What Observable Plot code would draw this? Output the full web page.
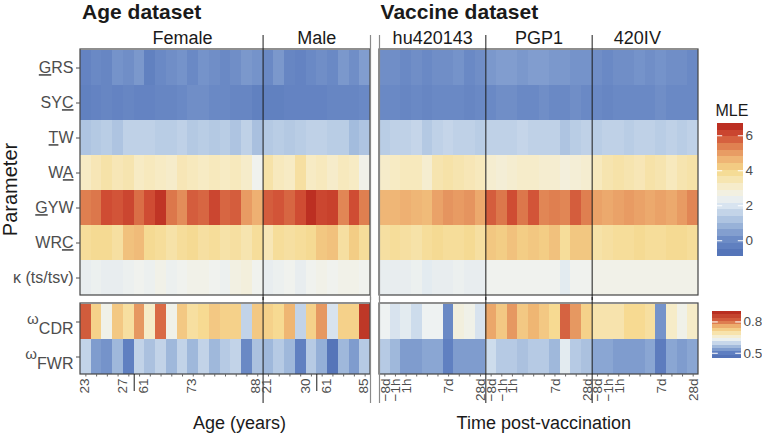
<!DOCTYPE html>
<html><head><meta charset="utf-8">
<script src="https://cdn.jsdelivr.net/npm/d3@7"></script>
<script src="https://cdn.jsdelivr.net/npm/@observablehq/plot@0.6"></script>
<style>
body{margin:0;background:#fff;}
#chart{position:relative;width:762px;height:434px;background:#fff;overflow:hidden;}
#chart > svg{position:absolute;}
</style>
</head><body><div id="chart"></div>
<script>
// ---------------- data ----------------
const params = ["GRS","SYC","TW","WA","GYW","WRC","κ (ts/tsv)"];
const paramUnderline = [0,2,0,1,0,2,-1];
const omegaRows = ["CDR","FWR"];
const groups = ["Female","Male","hu420143","PGP1","420IV"];
const groupSizes = [17,10,10,10,10];
const groupDataset = ["Age","Age","Vaccine","Vaccine","Vaccine"];
const datasets = ["Age","Vaccine"];
const axisTitles = ["Age (years)","Time post-vaccination"];
const femaleTicks = ["23","","","","27","61","","","","","73","","","","","","88"];
const maleTicks = ["21","","","","30","61","","","","85"];
const vaccineTicks = ["−8d","−1h","1h","","","","7d","","","28d"];
const breakIndex = [5,5]; // first "old" individual in Female, Male

// MLE, age dataset (17 female + 10 male)
const GRS_age = [-0.2,0.0,-0.1,0.2,0.1,0.3,-0.3,0.0,0.1,0.2,0.0,0.2,0.1,0.0,0.1,0.3,0.2, 0.0,0.3,-0.1,-0.2,0.0,0.1,0.0,0.3,0.1,0.4];
const SYC_age = [-0.3,-0.2,-0.1,-0.2,-0.1,-0.2,-0.2,-0.1,-0.1,0.0,0.1,0.1,0.0,0.0,-0.1,-0.1,-0.3, -0.3,-0.3,-0.2,-0.2,-0.2,-0.2,-0.1,-0.1,-0.1,0.0];
const TW_age = [1.2,1.3,1.4,1.2,1.5,1.5,1.5,1.4,1.4,1.5,1.3,1.4,1.3,1.4,1.2,1.5,1.1, 1.3,1.4,1.3,1.4,1.5,1.5,1.4,1.4,1.0,1.2];
const WA_age = [3.2,3.4,3.6,3.4,3.5,3.2,3.3,3.2,3.1,3.4,3.3,3.2,3.3,3.2,3.3,3.1,2.5, 3.6,3.3,3.2,3.7,3.2,3.3,3.1,3.3,3.2,2.6];
const GYW_age = [5.4,5.5,6.0,5.9,6.1,5.6,6.0,6.4,5.5,5.2,5.8,5.7,6.1,5.7,5.8,5.0,4.7, 5.8,5.9,5.7,6.0,6.5,6.1,6.2,5.3,6.0,5.4];
const WRC_age = [3.8,3.9,3.9,3.7,4.4,4.5,3.9,3.8,3.6,3.8,3.9,3.7,3.8,3.6,3.7,3.5,3.8, 3.4,3.8,3.7,3.8,3.9,4.3,4.4,3.7,4.2,3.8];
const KAPPA_age = [2.3,2.4,2.3,2.3,2.4,2.5,2.4,2.6,2.4,2.5,2.6,2.6,2.5,2.4,2.7,2.8,2.5, 2.3,2.4,2.5,2.3,2.5,2.6,2.5,2.6,2.6,2.5];

// MLE, vaccine dataset (hu420143, PGP1, 420IV x 10 time points)
const GRS_vac = [0.1,0.1,0.0,0.1,0.0,0.1,0.1,0.2,0.0,0.1, 0.3,0.4,0.4,0.3,0.4,0.4,0.3,0.3,0.2,0.2, 0.1,0.0,0.1,0.1,0.2,0.1,0.2,0.1,0.1,0.0];
const SYC_vac = [0.0,0.0,-0.1,0.0,-0.1,0.0,0.0,0.0,-0.1,0.0, 0.0,0.1,0.1,0.0,0.0,0.1,0.0,0.0,0.1,0.0, 0.0,-0.1,0.0,0.0,0.0,0.0,0.1,0.0,0.0,0.0];
const TW_vac = [1.4,1.5,1.5,1.6,1.3,1.5,1.6,1.5,1.5,1.4, 1.5,1.5,1.5,1.6,1.5,1.5,1.5,1.2,1.4,1.5, 1.4,1.5,1.5,1.4,1.5,1.5,1.4,1.5,1.4,1.5];
const WA_vac = [3.1,3.2,3.3,3.3,3.0,3.5,3.6,3.5,3.4,3.3, 3.0,2.9,3.0,3.1,3.1,3.0,3.0,2.8,2.9,3.0, 3.3,3.5,3.6,3.5,3.4,3.6,3.5,3.3,3.5,3.6];
const GYW_vac = [4.6,4.6,4.7,4.6,4.5,4.9,5.1,5.0,5.1,4.8, 5.8,5.5,6.0,5.5,5.9,5.3,5.4,5.3,5.8,5.4, 4.9,4.8,4.9,5.0,4.9,4.8,4.9,4.8,5.0,5.3];
const WRC_vac = [3.7,3.8,3.7,3.6,3.8,3.9,3.8,3.8,3.9,3.7, 4.3,4.2,4.4,4.2,4.3,4.2,4.4,3.8,4.3,4.3, 3.6,3.7,3.8,3.8,3.9,3.8,3.8,3.9,3.9,3.8];
const KAPPA_vac = [2.3,2.3,2.3,2.4,2.2,2.3,2.3,2.4,2.3,2.3, 2.5,2.5,2.5,2.5,2.5,2.5,2.5,2.2,2.5,2.5, 2.6,2.6,2.6,2.6,2.6,2.6,2.6,2.6,2.6,2.6];

// omega
const CDR_age = [0.82,0.72,0.64,0.73,0.70,0.77,0.67,0.80,0.64,0.73,0.70,0.71,0.73,0.72,0.72,0.59,0.73, 0.72,0.71,0.75,0.59,0.72,0.77,0.61,0.72,0.72,0.87];
const FWR_age = [0.59,0.53,0.52,0.56,0.50,0.59,0.57,0.59,0.56,0.59,0.56,0.59,0.56,0.58,0.59,0.51,0.57, 0.56,0.58,0.56,0.50,0.58,0.55,0.47,0.56,0.53,0.58];
const CDR_vac = [0.63,0.61,0.62,0.60,0.63,0.63,0.51,0.65,0.64,0.61, 0.76,0.73,0.77,0.73,0.75,0.73,0.71,0.81,0.77,0.72, 0.69,0.69,0.69,0.71,0.71,0.70,0.52,0.67,0.64,0.67];
const FWR_vac = [0.58,0.56,0.53,0.53,0.54,0.54,0.50,0.53,0.53,0.53, 0.60,0.58,0.58,0.57,0.58,0.58,0.56,0.62,0.58,0.57, 0.54,0.54,0.53,0.53,0.53,0.54,0.49,0.54,0.53,0.54];

// colour scales
const mleStops = [-0.9,0,1,2,2.5,3.2,4,4.7,5.4,6,6.7];
const mleColors = ["#5070b6","#6a89c5","#a3bcdd","#dbe6f1","#f0f2ee","#f7ebc4","#f5d88c","#eeb072","#df7f50","#cf4c33","#b5241b"];
const omStops = [0.45,0.5,0.55,0.6,0.63,0.67,0.71,0.75,0.8,0.9];
const omColors = ["#4f6db4","#6080c1","#94afd7","#cddcec","#eef2f2","#f6ecc8","#f7da92","#efb673","#d96a45","#b3221a"];

// ---------------- layout helpers ----------------
const FONT = '"Liberation Sans", Arial, Helvetica, sans-serif';
const svgStyle = {fontFamily: FONT, color: "#4d4d4d", background: "transparent", overflow: "visible"};
const ageRows = [GRS_age,SYC_age,TW_age,WA_age,GYW_age,WRC_age,KAPPA_age];
const vacRows = [GRS_vac,SYC_vac,TW_vac,WA_vac,GYW_vac,WRC_vac,KAPPA_vac];
const nAge = groupSizes[0] + groupSizes[1];
const vacStart = nAge + 1; // one empty column between datasets
const nAll = vacStart + groupSizes[2] + groupSizes[3] + groupSizes[4];
const colOf = (ds, j) => ds === "Age" ? j : vacStart + j;

let acc = {Age: 0, Vaccine: 0};
const groupInfo = groups.map((g, i) => {
  const ds = groupDataset[i];
  const start = colOf(ds, acc[ds]);
  acc[ds] += groupSizes[i];
  return {name: g, ds, start, end: start + groupSizes[i]};
});
const panels = datasets.map(ds => {
  const gs = groupInfo.filter(g => g.ds === ds);
  return {name: ds, start: gs[0].start, end: gs[gs.length-1].end};
});
const innerDividers = groupInfo.filter((g, i) => i > 0 && groupInfo[i-1].ds === g.ds).map(g => g.start);
const panelEdges = [panels[0].end, panels[1].start];
const breaks = [groupInfo[0].start + breakIndex[0], groupInfo[1].start + breakIndex[1]];

const topCells = params.flatMap((p, r) =>
  ageRows[r].map((v, j) => ({row: p, c0: colOf("Age", j), value: v}))
  .concat(vacRows[r].map((v, j) => ({row: p, c0: colOf("Vaccine", j), value: v}))));
const botCells = [[CDR_age, CDR_vac],[FWR_age, FWR_vac]].flatMap(([a, b], r) =>
  a.map((v, j) => ({row: omegaRows[r], c0: colOf("Age", j), value: v}))
  .concat(b.map((v, j) => ({row: omegaRows[r], c0: colOf("Vaccine", j), value: v}))));

// x tick labels; labels next to an age break are pushed away from the break line
const tickData = [];
const addTicks = (g, labs, brk) => labs.forEach((l, j) => {
  const shift = brk == null ? 0.05 : (j === brk - 1 ? -0.55 : (j === brk ? 0.4 : -0.15));
  tickData.push({pos: g.start + j + 0.5, label: l, shift});
});
addTicks(groupInfo[0], femaleTicks, breakIndex[0]);
addTicks(groupInfo[1], maleTicks, breakIndex[1]);
addTicks(groupInfo[2], vaccineTicks);
addTicks(groupInfo[3], vaccineTicks);
addTicks(groupInfo[4], vaccineTicks);

const xDomain = [0, nAge, vacStart, nAll];
const xRange = [80, 370, 379, 698];
const labelNudge = {Female: 1.0, "420IV": -0.75};
const titleNudge = {Age: 0.15, Vaccine: 0.1};

// ---------------- top panel ----------------
const topPlot = Plot.plot({
  width: 762, height: 300, marginTop: 49, marginBottom: 5, marginLeft: 80, marginRight: 64,
  style: svgStyle,
  x: {type: "linear", domain: xDomain, range: xRange, axis: null},
  y: {type: "band", domain: params, padding: 0},
  color: {type: "linear", domain: mleStops, range: mleColors},
  marks: [
    Plot.barX(topCells, {x1: "c0", x2: d => d.c0 + 1, y: "row", fill: "value", shapeRendering: "crispEdges"}),
    Plot.rect(panels, {x1: "start", x2: "end", fill: "none", stroke: "#444", strokeWidth: 1.2}),
    Plot.ruleX(innerDividers, {stroke: "#1a1a1a", strokeWidth: 1, insetTop: -14, insetBottom: -5}),
    Plot.ruleX(panelEdges, {stroke: "#8a8a8a", strokeWidth: 1.2, insetTop: -14, insetBottom: -5}),
    Plot.axisY({tickSize: 4, tickPadding: 3, fontSize: 16, label: null}),
    Plot.text(groupInfo, {x: d => (d.start + d.end) / 2 + (labelNudge[d.name] || 0), text: "name",
      frameAnchor: "top", lineAnchor: "middle", dy: -11.5, fontSize: 18, fill: "#1a1a1a"}),
    Plot.text(panels, {x: d => d.start + titleNudge[d.name], text: d => d.name + " dataset",
      frameAnchor: "top", lineAnchor: "middle", textAnchor: "start", dy: -37, fontSize: 21, fontWeight: "bold", fill: "#1a1a1a"}),
    Plot.text(["Parameter"], {frameAnchor: "left", textAnchor: "middle", lineAnchor: "middle", rotate: -90,
      dx: -70, dy: 17, fontSize: 20, fill: "#1a1a1a"})
  ]
});
topPlot.style.left = "0px"; topPlot.style.top = "0px";

const NS = "http://www.w3.org/2000/svg";
topPlot.querySelectorAll('g[aria-label="y-axis tick label"] text').forEach(t => {
  const s = t.textContent, i = params.indexOf(s);
  if (i < 0) return;
  const k = paramUnderline[i];
  if (k < 0) return;
  t.textContent = "";
  [[s.slice(0, k), false], [s[k], true], [s.slice(k + 1), false]].forEach(([str, u]) => {
    if (!str) return;
    const ts = document.createElementNS(NS, "tspan");
    ts.textContent = str;
    if (u) { ts.setAttribute("text-decoration", "underline"); ts.style.textDecoration = "underline"; }
    t.appendChild(ts);
  });
});

// ---------------- bottom panel ----------------
const botPlot = Plot.plot({
  width: 762, height: 137, marginTop: 6, marginBottom: 60, marginLeft: 80, marginRight: 64,
  style: svgStyle,
  x: {type: "linear", domain: xDomain, range: xRange},
  y: {type: "band", domain: omegaRows, padding: 0},
  color: {type: "linear", domain: omStops, range: omColors},
  marks: [
    Plot.barX(botCells, {x1: "c0", x2: d => d.c0 + 1, y: "row", fill: "value", shapeRendering: "crispEdges"}),
    Plot.rect(panels, {x1: "start", x2: "end", fill: "none", stroke: "#444", strokeWidth: 1.2}),
    Plot.ruleX(innerDividers, {stroke: "#1a1a1a", strokeWidth: 1, insetTop: -6, insetBottom: -29}),
    Plot.ruleX(panelEdges, {stroke: "#8a8a8a", strokeWidth: 1.2, insetTop: -6, insetBottom: -29}),
    Plot.ruleX(breaks, {stroke: "#1a1a1a", strokeWidth: 1, insetTop: 71, insetBottom: -17}),
    Plot.axisX({ticks: tickData.map(d => d.pos), tickFormat: () => "", tickSize: 2.5, stroke: "#666", label: null}),
    Plot.text(tickData, {x: d => d.pos + d.shift, text: "label", frameAnchor: "bottom", rotate: -90,
      textAnchor: "end", lineAnchor: "middle", dy: 4, fontSize: 13.5, fill: "#4d4d4d"}),
    Plot.axisY({tickSize: 4, tickPadding: 3, fontSize: 16, label: null}),
    Plot.text(panels, {x: d => (d.start + d.end) / 2 + (d.name === "Age" ? 1.3 : 0.45),
      text: (d, i) => axisTitles[i], frameAnchor: "bottom", lineAnchor: "middle", dy: 49, fontSize: 18, fill: "#1a1a1a"})
  ]
});
botPlot.style.left = "0px"; botPlot.style.top = "297px";

botPlot.querySelectorAll('g[aria-label="y-axis tick label"] text').forEach(t => {
  const s = t.textContent;
  if (!omegaRows.includes(s)) return;
  t.textContent = "";
  const w = document.createElementNS(NS, "tspan");
  w.textContent = "ω"; w.setAttribute("font-size", "15"); w.setAttribute("dy", "-3");
  const sub = document.createElementNS(NS, "tspan");
  sub.textContent = s; sub.setAttribute("dy", "10");
  t.appendChild(w); t.appendChild(sub);
});

// ---------------- legends ----------------
function colorbar({stops, colors, ticks, fmt, title, left, top, width, height, mTop, mBottom, bx0, bx1, nbin}) {
  const lo = stops[0], hi = stops[stops.length - 1], step = (hi - lo) / nbin;
  const bins = d3.range(nbin).map(i => lo + i * step);
  const p = Plot.plot({
    width, height, marginTop: mTop, marginBottom: mBottom, marginLeft: bx0, marginRight: width - bx1,
    style: svgStyle,
    x: {domain: [0, 1], axis: null},
    y: {domain: [lo, hi]},
    color: {type: "linear", domain: stops, range: colors},
    marks: [
      Plot.rect(bins, {x1: 0, x2: 1, y1: d => d, y2: d => d + step, fill: d => d + step / 2, shapeRendering: "crispEdges"}),
      Plot.ruleY(ticks, {x1: 0, x2: 0.2, stroke: "white", strokeWidth: 1}),
      Plot.ruleY(ticks, {x1: 0.8, x2: 1, stroke: "white", strokeWidth: 1}),
      Plot.axisY({anchor: "right", ticks, tickFormat: fmt, tickSize: 0, tickPadding: 2, fontSize: 13.5, label: null}),
      ...(title ? [Plot.text([title], {frameAnchor: "top-left", textAnchor: "start", lineAnchor: "middle", dx: -2, dy: -13, fontSize: 16, fill: "#1a1a1a"})] : [])
    ]
  });
  p.style.left = left + "px"; p.style.top = top + "px";
  return p;
}
const leg1 = colorbar({stops: mleStops, colors: mleColors, ticks: [0,2,4,6], fmt: d3.format("d"), title: "MLE",
  left: 690, top: 98, width: 72, height: 165, mTop: 25, mBottom: 7, bx0: 27, bx1: 53, nbin: 20});
const leg2 = colorbar({stops: omStops, colors: omColors, ticks: [0.5, 0.8], fmt: d3.format(".1f"), title: null,
  left: 690, top: 300, width: 72, height: 66, mTop: 11, mBottom: 8, bx0: 22, bx1: 51, nbin: 14});

const chart = document.getElementById("chart");
chart.append(topPlot, botPlot, leg1, leg2);
</script></body></html>
